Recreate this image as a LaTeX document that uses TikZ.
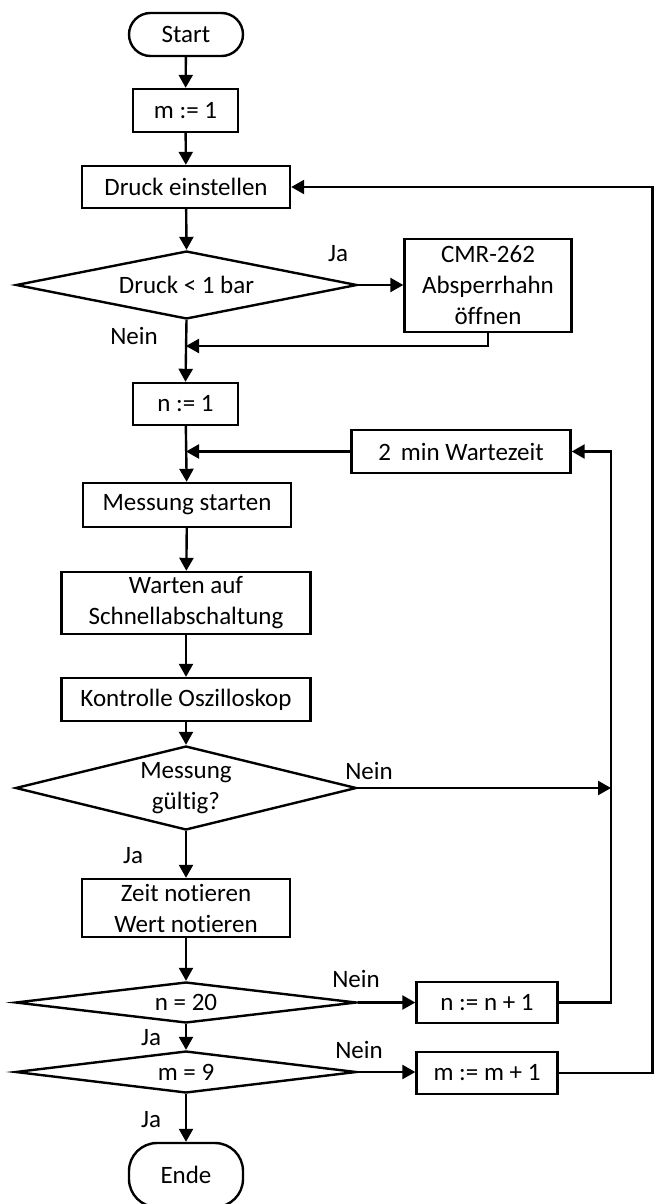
\documentclass[tikz,border=0pt]{standalone}
\usepackage{fontspec}
\setmainfont[Ligatures={NoCommon,NoContextual}]{Carlito}
\usetikzlibrary{shapes.geometric,arrows.meta}
\tikzset{
  every node/.style={font=\fontsize{25}{31}\selectfont},
  box/.style={draw, line width=2.4pt, rectangle, inner sep=0pt, align=center},
  term/.style={box, rounded corners=#1},
  dec/.style={draw, line width=2.4pt, diamond, inner sep=0pt, minimum width=341pt},
  lbl/.style={inner sep=0pt},
  conn/.style={line width=2.4pt, -{Triangle[length=13pt,width=14pt]}},
}
\begin{document}
\begin{tikzpicture}[x=1pt,y=-1pt]
\useasboundingbox (0,0) rectangle (655,1204);
\clip (0,0) rectangle (655,1204);
% nodes
\node[term=21.5pt, minimum width=114pt, minimum height=43pt] (start) at (186,34.5) {Start};
\node[box, minimum width=105pt, minimum height=43pt] (m1) at (185.5,110.5) {m := 1};
\node[box, minimum width=208pt, minimum height=42pt] (druck) at (186,187) {Druck einstellen};
\node[dec, minimum height=68pt, label={[align=center]center:Druck < 1 bar}] (d1) at (186.5,285) {};
\node[box, minimum width=167pt, minimum height=93pt] (cmr) at (488,285.5) {CMR-262\\Absperrhahn\\öffnen};
\node[box, minimum width=105pt, minimum height=42pt] (n1) at (185.5,404) {n := 1};
\node[box, minimum width=219pt, minimum height=43pt] (wart) at (461,451.5) {2\, min Wartezeit};
\node[box, minimum width=208pt, minimum height=44pt] (mess) at (187,505) {Messung starten};
\node[box, minimum width=249pt, minimum height=62pt] (warten) at (186,603) {Warten auf\\Schnellabschaltung};
\node[box, minimum width=249pt, minimum height=43pt] (kontr) at (186,699.5) {Kontrolle Oszilloskop};
\node[dec, minimum height=84pt, label={[align=center]center:Messung\\gültig?}] (d2) at (186,788) {};
\node[box, minimum width=208pt, minimum height=58pt] (zeit) at (186,908) {Zeit notieren\\Wert notieren};
\node[dec, minimum height=41pt, label={center:n = 20}] (d3) at (186,1002.5) {};
\node[box, minimum width=141pt, minimum height=41pt] (nplus) at (487,1002.5) {n := n + 1};
\node[dec, minimum height=42pt, label={center:m = 9}] (d4) at (186,1072) {};
\node[box, minimum width=141pt, minimum height=42pt] (mplus) at (487,1073) {m := m + 1};
\node[term=28pt, minimum width=114pt, minimum height=64pt] (ende) at (186,1175) {Ende};
% labels
\node[lbl] (l1) at (338,254) {Ja};
\node[lbl] (l2) at (134,336) {Nein};
\node[lbl] (l3) at (369,771) {Nein};
\node[lbl] (l4) at (133,856) {Ja};
\node[lbl] (l5) at (356,979) {Nein};
\node[lbl] (l6) at (151,1038) {Ja};
\node[lbl] (l7) at (359,1050) {Nein};
\node[lbl] (l8) at (151,1120) {Ja};
% coordinates
\coordinate (j1) at (186,346);
\coordinate (j2) at (186,451.5);
\coordinate (j3) at (611,788);
\coordinate (r1) at (611,451.5);
\coordinate (r2) at (652.5,187);
% connectors
\draw[conn] (start) -- (m1);
\draw[conn] (m1) -- (druck);
\draw[conn] (druck) -- (d1.north);
\draw[conn] (d1.east) -- (cmr.west |- d1.east);
\draw[conn] (d1.south) -- (n1.north);
\draw[conn] (cmr.south) |- (j1);
\draw[conn] (n1) -- (mess);
\draw[conn] (wart.west) -- (j2);
\draw[conn] (mess) -- (warten);
\draw[conn] (warten) -- (kontr);
\draw[conn] (kontr) -- (d2.north);
\draw[conn] (d2.east) -- (j3);
\draw[conn] (d2.south) -- (zeit.north);
\draw[conn] (zeit) -- (d3.north);
\draw[conn] (d3.east) -- (nplus.west);
\draw[conn] (nplus.east) -| (r1) -- (wart.east);
\draw[conn] (d3.south) -- (d4.north);
\draw[conn] (d4.east) -- (mplus.west |- d4.east);
\draw[conn] (mplus.east) -| (r2) -- (druck.east);
\draw[conn] (d4.south) -- (ende.north);
\end{tikzpicture}
\end{document}
